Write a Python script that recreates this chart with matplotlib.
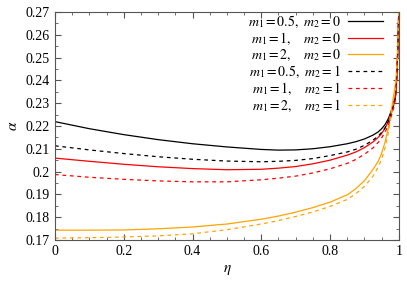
import matplotlib.pyplot as plt
from matplotlib.ticker import MultipleLocator

plt.rcParams["font.family"] = "Liberation Serif"
plt.rcParams["mathtext.fontset"] = "stix"

# values
eta = [0.0, 0.1, 0.2, 0.3, 0.4, 0.5, 0.6, 0.65, 0.7, 0.75, 0.8, 0.85, 0.875, 0.9,
       0.925, 0.94, 0.95, 0.96, 0.97, 0.98, 0.985, 0.99, 0.993, 0.995, 0.997, 0.999, 1.0]

a_05_0 = [0.2219, 0.2188, 0.2162, 0.2140, 0.2122, 0.2108, 0.2097, 0.2094, 0.2095, 0.2100,
          0.2109, 0.2122, 0.2131, 0.2143, 0.2160, 0.2174, 0.2188, 0.2206, 0.2234, 0.2275,
          0.2302, 0.2336, 0.2395, 0.2460, 0.2545, 0.2660, 0.2730]
a_1_0 = [0.2059, 0.2045, 0.2032, 0.2021, 0.2013, 0.2008, 0.2010, 0.2015, 0.2022, 0.2034,
         0.2050, 0.2072, 0.2086, 0.2105, 0.2130, 0.2150, 0.2167, 0.2190, 0.2222, 0.2265,
         0.2292, 0.2325, 0.2385, 0.2450, 0.2535, 0.2655, 0.2730]
a_2_0 = [0.1743, 0.1743, 0.1744, 0.1749, 0.1757, 0.1770, 0.1791, 0.1805, 0.1822, 0.1842,
         0.1866, 0.1898, 0.1925, 0.1960, 0.2010, 0.2045, 0.2080, 0.2130, 0.2195, 0.2285,
         0.2335, 0.2385, 0.2432, 0.2487, 0.2560, 0.2665, 0.2730]
a_05_1 = [0.2113, 0.2095, 0.2079, 0.2065, 0.2054, 0.2046, 0.2043, 0.2045, 0.2049, 0.2057,
          0.2070, 0.2086, 0.2098, 0.2115, 0.2138, 0.2156, 0.2172, 0.2192, 0.2222, 0.2265,
          0.2292, 0.2325, 0.2385, 0.2455, 0.2535, 0.2650, 0.2730]
a_1_1 = [0.1987, 0.1975, 0.1966, 0.1959, 0.1955, 0.1955, 0.1964, 0.1971, 0.1980, 0.1994,
         0.2012, 0.2036, 0.2053, 0.2076, 0.2104, 0.2128, 0.2148, 0.2173, 0.2207, 0.2252,
         0.2280, 0.2315, 0.2380, 0.2450, 0.2530, 0.2650, 0.2730]
a_2_1 = [0.1708, 0.1710, 0.1713, 0.1718, 0.1727, 0.1745, 0.1770, 0.1785, 0.1803, 0.1823,
         0.1847, 0.1878, 0.1903, 0.1935, 0.1980, 0.2020, 0.2055, 0.2105, 0.2175, 0.2268,
         0.2315, 0.2365, 0.2418, 0.2478, 0.2552, 0.2660, 0.2730]

labels = [r"$m_1 = 0.5,\ m_2 = 0$", r"$m_1 = 1,\ \enspace\; m_2 = 0$",
          r"$m_1 = 2,\ \enspace\; m_2 = 0$", r"$m_1 = 0.5,\ m_2 = 1$",
          r"$m_1 = 1,\ \enspace\; m_2 = 1$", r"$m_1 = 2,\ \enspace\; m_2 = 1$"]

xticks = [0.0, 0.2, 0.4, 0.6, 0.8, 1.0]
xticklabels = ["0", "0.2", "0.4", "0.6", "0.8", "1"]
yticks = [0.17, 0.18, 0.19, 0.20, 0.21, 0.22, 0.23, 0.24, 0.25, 0.26, 0.27]
yticklabels = ["0.17", "0.18", "0.19", "0.2", "0.21", "0.22", "0.23",
               "0.24", "0.25", "0.26", "0.27"]

fig = plt.figure(figsize=(4.07, 2.84), dpi=100)
ax = fig.add_axes([0.135, 0.155, 0.845, 0.803])

dash = (0, (3, 3))
ax.plot(eta, a_05_0, color="black", lw=0.9, label=labels[0])
ax.plot(eta, a_1_0, color="#ff0000", lw=0.9, label=labels[1])
ax.plot(eta, a_2_0, color="#ffa500", lw=0.9, label=labels[2])
ax.plot(eta, a_05_1, color="black", lw=0.9, ls=dash, label=labels[3])
ax.plot(eta, a_1_1, color="#ff0000", lw=0.9, ls=dash, label=labels[4])
ax.plot(eta, a_2_1, color="#ffa500", lw=0.9, ls=dash, label=labels[5])

ax.set_xlim(0, 1)
ax.set_ylim(0.17, 0.27)
ax.set_xticks(xticks)
ax.set_xticklabels(xticklabels, fontsize=10)
ax.set_yticks(yticks)
ax.set_yticklabels(yticklabels, fontsize=10)
ax.xaxis.set_minor_locator(MultipleLocator(0.05))
ax.yaxis.set_minor_locator(MultipleLocator(0.005))
ax.tick_params(which="both", direction="in", top=True, right=True, color="#555555")
ax.tick_params(which="major", length=4)
ax.tick_params(which="minor", length=2)
for s in ax.spines.values():
    s.set_color("#555555")

ax.set_xlabel(r"$\eta$", fontsize=11)
ax.set_ylabel(r"$\alpha$", fontsize=11)

ax.legend(loc="upper right", bbox_to_anchor=(0.961, 1.003), frameon=False,
          markerfirst=False, fontsize=10, handlelength=2.5, labelspacing=0.05,
          borderaxespad=0, borderpad=0.2, handletextpad=0.5)

fig.savefig("out.png", dpi=100)
